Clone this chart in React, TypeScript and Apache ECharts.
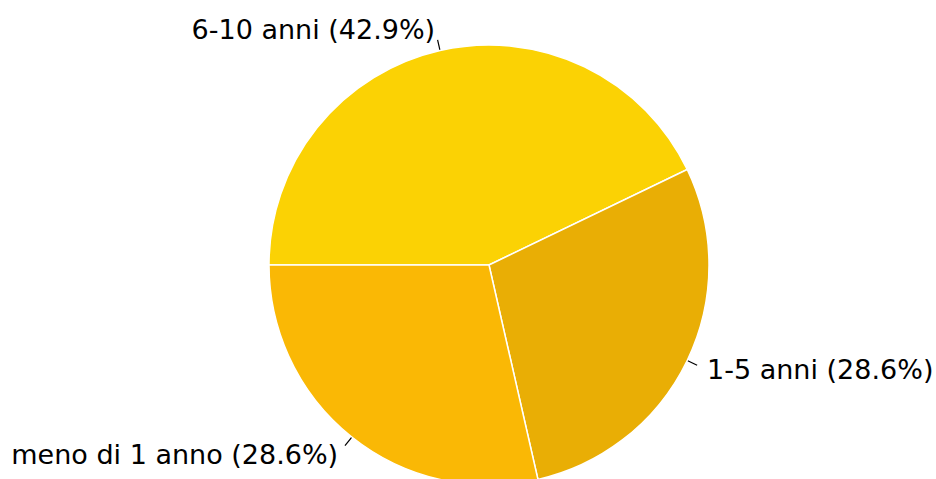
import React, { useEffect, useRef } from "react";
import * as echarts from "echarts";

const categories = ["6-10 anni", "1-5 anni", "meno di 1 anno"];
const values = [3, 2, 2];
const colors = ["#FBD204", "#E9AE05", "#FAB805"];

export default function App() {
  const ref = useRef<HTMLDivElement>(null);
  useEffect(() => {
    document.body.style.margin = "0";
    const chart = echarts.init(ref.current!, null, { renderer: "svg" });
    const total = values.reduce((a, b) => a + b, 0);
    chart.setOption({
      animation: false,
      backgroundColor: "#ffffff",
      series: [
        {
          type: "pie",
          center: [489, 265],
          radius: 220,
          startAngle: 180,
          clockwise: true,
          avoidLabelOverlap: false,
          data: categories.map((name, i) => ({
            name,
            value: values[i],
            itemStyle: { color: colors[i] },
          })),
          itemStyle: { borderColor: "#ffffff", borderWidth: 1.5 },
          label: {
            show: true,
            fontFamily: "DejaVu Sans",
            fontSize: 27,
            color: "#000000",
            overflow: "none",
            distanceToLabelLine: 0,
            formatter: (p: any) =>
              `${p.name} (${((p.value / total) * 100).toFixed(1)}%)`,
          },
          labelLine: {
            show: true,
            length: 22,
            length2: 0,
            lineStyle: { color: "#000000", width: 1.2 },
          },
          labelLayout: (params: any) => {
            const pts = params.labelLinePoints;
            if (!pts || pts.length < 2) return {};
            const p0 = pts[0];
            const p1 = pts[1];
            const mid = [p0[0] + (p1[0] - p0[0]) * 0.5, p0[1] + (p1[1] - p0[1]) * 0.5];
            return { labelLinePoints: [p0, mid, mid] };
          },
          emphasis: { disabled: true },
        },
      ],
    });
    return () => chart.dispose();
  }, []);
  return <div ref={ref} style={{ width: 936, height: 479 }} />;
}
